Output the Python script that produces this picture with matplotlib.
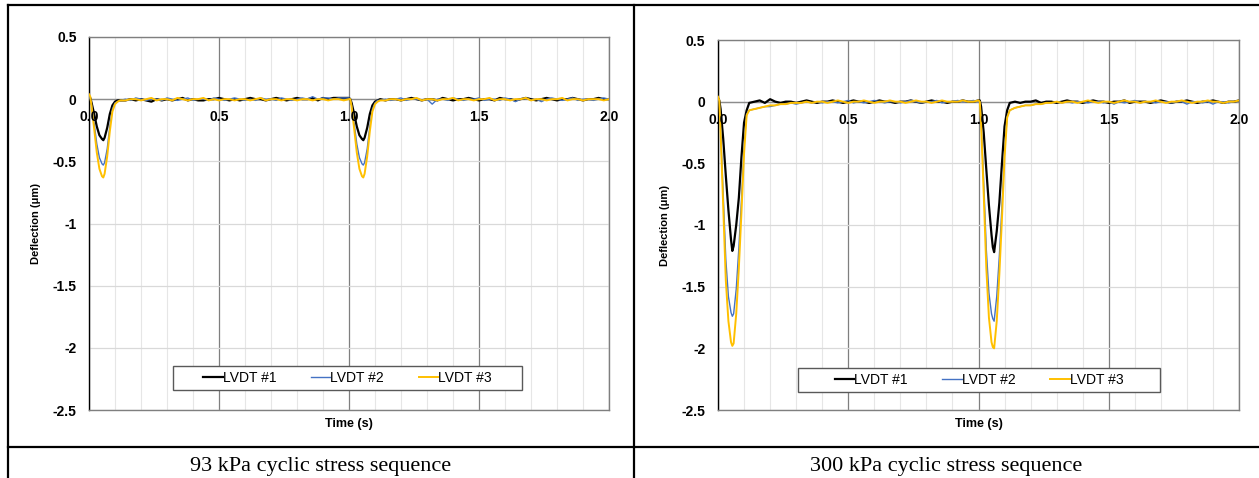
import matplotlib.pyplot as plt
from matplotlib.patches import Rectangle
from matplotlib.lines import Line2D

plt.rcParams['font.family'] = ['Liberation Sans', 'DejaVu Sans']

# time base (s), shared by all LVDT traces
time_s = [0.000, 0.005, 0.010, 0.020, 0.030, 0.040, 0.050, 0.055, 0.060, 0.070, 0.080, 0.090, 0.100, 0.110, 0.120,
          0.14, 0.16, 0.18, 0.20, 0.22, 0.24, 0.26, 0.28, 0.30, 0.32,
          0.34, 0.36, 0.38, 0.40, 0.42, 0.44, 0.46, 0.48, 0.50, 0.52,
          0.54, 0.56, 0.58, 0.60, 0.62, 0.64, 0.66, 0.68, 0.70, 0.72,
          0.74, 0.76, 0.78, 0.80, 0.82, 0.84, 0.86, 0.88, 0.90, 0.92,
          0.94, 0.96, 0.98,
          1.000, 1.005, 1.010, 1.020, 1.030, 1.040, 1.050, 1.055, 1.060, 1.070, 1.080, 1.090, 1.100, 1.110, 1.120,
          1.14, 1.16, 1.18, 1.20, 1.22, 1.24, 1.26, 1.28, 1.30, 1.32,
          1.34, 1.36, 1.38, 1.40, 1.42, 1.44, 1.46, 1.48, 1.50, 1.52,
          1.54, 1.56, 1.58, 1.60, 1.62, 1.64, 1.66, 1.68, 1.70, 1.72,
          1.74, 1.76, 1.78, 1.80, 1.82, 1.84, 1.86, 1.88, 1.90, 1.92,
          1.94, 1.96, 1.98, 2.00]

# 93 kPa
lvdt1_93 = [0.02, 0.01, -0.03, -0.12, -0.22, -0.29, -0.32, -0.33, -0.31, -0.23, -0.12, -0.05, -0.02, -0.01, -0.01,
            -0.01, 0.00, -0.01, 0.00, -0.01, -0.02, 0.00, -0.01, 0.00, -0.01,
            0.00, 0.01, -0.01, 0.00, -0.01, -0.01, 0.00, 0.00, 0.01, 0.00,
            -0.01, 0.00, -0.01, 0.00, 0.01, 0.00, 0.00, -0.01, 0.00, 0.01,
            0.00, -0.01, 0.00, 0.01, 0.00, 0.00, 0.01, -0.01, 0.01, 0.00,
            0.01, 0.01, 0.01,
            0.01, 0.00, -0.03, -0.12, -0.22, -0.29, -0.32, -0.33, -0.31, -0.23, -0.12, -0.05, -0.02, -0.01, 0.00,
            -0.01, 0.00, 0.00, -0.01, 0.00, 0.01, 0.00, -0.01, 0.00, 0.00,
            -0.01, 0.01, 0.00, -0.01, 0.00, 0.00, 0.01, 0.00, -0.01, 0.00,
            0.00, -0.01, 0.01, 0.00, 0.00, -0.01, 0.00, 0.01, 0.00, -0.01,
            0.00, 0.01, 0.00, -0.01, 0.00, 0.00, 0.01, 0.00, -0.01, 0.00,
            0.00, 0.01, 0.00, 0.00]
lvdt2_93 = [0.02, 0.00, -0.05, -0.20, -0.36, -0.47, -0.52, -0.53, -0.51, -0.40, -0.22, -0.08, -0.03, -0.02, -0.01,
            0.00, -0.01, 0.01, 0.00, -0.01, 0.00, 0.00, -0.01, 0.01, 0.00,
            -0.01, 0.00, 0.01, -0.01, 0.00, 0.00, -0.01, 0.01, 0.00, -0.01,
            0.00, 0.01, 0.00, -0.01, 0.00, -0.01, 0.01, 0.00, 0.00, -0.01,
            0.01, 0.00, -0.01, 0.00, 0.01, 0.00, 0.02, 0.00, 0.01, 0.01,
            0.00, 0.01, 0.01,
            0.01, 0.00, -0.05, -0.20, -0.36, -0.47, -0.52, -0.53, -0.51, -0.40, -0.22, -0.08, -0.03, -0.01, -0.01,
            0.00, -0.01, 0.00, 0.01, -0.01, 0.00, 0.00, -0.01, 0.00, -0.04,
            0.00, 0.00, -0.01, 0.01, 0.00, -0.01, 0.00, 0.00, 0.01, -0.01,
            0.00, 0.00, -0.01, 0.01, 0.00, -0.02, 0.00, 0.01, -0.01, 0.00,
            -0.02, 0.00, 0.01, 0.00, -0.01, 0.00, 0.01, -0.01, 0.00, 0.00,
            -0.01, 0.00, 0.01, 0.00]
lvdt3_93 = [0.04, 0.02, -0.06, -0.24, -0.43, -0.56, -0.62, -0.63, -0.60, -0.46, -0.26, -0.10, -0.04, -0.02, -0.01,
            -0.01, 0.00, 0.00, -0.01, 0.00, 0.01, -0.01, 0.00, 0.00, -0.01,
            0.01, 0.00, -0.01, 0.00, 0.00, 0.01, -0.01, 0.00, -0.01, 0.00,
            0.00, -0.01, 0.00, 0.00, -0.01, 0.00, 0.01, -0.01, 0.00, 0.00,
            -0.01, 0.00, 0.00, -0.01, 0.00, 0.00, -0.01, 0.00, 0.00, -0.01,
            0.00, 0.00, -0.01,
            0.00, 0.00, -0.06, -0.24, -0.43, -0.56, -0.62, -0.63, -0.60, -0.46, -0.26, -0.10, -0.04, -0.02, -0.01,
            -0.01, 0.00, 0.00, -0.01, 0.00, 0.00, 0.01, -0.01, 0.00, 0.00,
            -0.01, 0.00, 0.00, 0.01, -0.01, 0.00, 0.00, -0.01, 0.00, 0.00,
            0.01, -0.01, 0.00, 0.00, -0.01, 0.00, 0.00, 0.01, -0.01, 0.00,
            0.00, -0.01, 0.00, 0.00, 0.01, -0.01, 0.00, 0.00, -0.01, 0.00,
            0.00, 0.00, -0.01, 0.00]

# 300 kPa
lvdt1_300 = [0.03, 0.01, -0.06, -0.30, -0.60, -0.88, -1.12, -1.21, -1.17, -1.00, -0.78, -0.45, -0.17, -0.07, -0.01,
             0.00, 0.01, -0.01, 0.02, 0.00, -0.01, 0.00, 0.00, -0.01, 0.00,
             0.01, 0.00, -0.01, 0.00, 0.00, 0.01, 0.00, -0.01, 0.00, 0.01,
             0.00, 0.00, -0.01, 0.00, 0.01, 0.00, 0.00, -0.01, 0.00, 0.00,
             0.01, 0.00, -0.01, 0.00, 0.01, 0.00, 0.00, -0.01, 0.00, 0.00,
             0.01, 0.00, 0.00,
             0.01, 0.01, -0.04, -0.25, -0.55, -0.84, -1.08, -1.18, -1.22, -1.05, -0.82, -0.50, -0.20, -0.07, -0.01,
             0.00, -0.01, 0.00, 0.00, 0.01, -0.01, 0.00, 0.00, -0.01, 0.00,
             0.01, 0.00, 0.00, -0.01, 0.00, 0.01, 0.00, 0.00, -0.01, 0.00,
             0.00, 0.01, -0.01, 0.00, 0.00, 0.00, -0.01, 0.00, 0.01, 0.00,
             -0.01, 0.00, 0.00, 0.01, 0.00, -0.01, 0.00, 0.00, 0.01, 0.00,
             -0.01, 0.00, 0.00, 0.01]
lvdt2_300 = [0.03, 0.00, -0.22, -0.75, -1.28, -1.58, -1.71, -1.74, -1.72, -1.52, -1.19, -0.80, -0.36, -0.10, -0.07,
             -0.06, -0.05, -0.04, -0.04, -0.03, -0.02, -0.02, -0.01, -0.02, -0.01,
             0.00, -0.01, 0.00, -0.01, 0.00, 0.00, -0.01, 0.00, 0.01, -0.01,
             0.00, -0.01, 0.00, 0.01, 0.00, -0.01, 0.00, 0.00, -0.01, 0.00,
             0.01, 0.00, -0.01, 0.00, 0.00, 0.01, -0.01, 0.00, 0.00, 0.01,
             0.00, 0.00, 0.01,
             0.00, 0.00, -0.15, -0.65, -1.20, -1.55, -1.72, -1.76, -1.78, -1.58, -1.25, -0.85, -0.40, -0.12, -0.07,
             -0.05, -0.04, -0.03, -0.03, -0.02, -0.02, -0.01, -0.01, 0.00, -0.01,
             0.00, -0.01, 0.00, 0.00, -0.01, 0.00, 0.00, -0.01, 0.00, -0.02,
             0.00, -0.01, 0.00, 0.01, -0.01, 0.00, 0.00, -0.01, 0.00, 0.00,
             -0.01, 0.00, 0.00, -0.02, 0.00, 0.00, -0.01, 0.00, -0.02, 0.00,
             0.00, -0.01, 0.00, 0.01]
lvdt3_300 = [0.04, 0.01, -0.25, -0.85, -1.45, -1.78, -1.95, -1.98, -1.96, -1.72, -1.35, -0.90, -0.42, -0.11, -0.07,
             -0.06, -0.05, -0.04, -0.03, -0.03, -0.02, -0.02, -0.01, -0.01, -0.01,
             0.00, -0.01, 0.00, 0.00, -0.01, 0.00, 0.01, 0.00, -0.01, 0.00,
             0.00, 0.01, 0.00, -0.01, 0.00, 0.00, 0.01, 0.00, 0.00, -0.01,
             0.00, 0.01, 0.00, 0.00, -0.01, 0.00, 0.01, 0.00, 0.00, 0.00,
             0.01, 0.00, 0.00,
             0.01, 0.00, -0.18, -0.75, -1.35, -1.75, -1.95, -1.99, -2.00, -1.78, -1.40, -0.95, -0.45, -0.13, -0.07,
             -0.05, -0.04, -0.03, -0.03, -0.02, -0.02, -0.01, -0.01, 0.00, -0.01,
             0.00, 0.00, -0.01, 0.00, 0.01, 0.00, -0.01, 0.00, 0.00, -0.01,
             0.00, 0.01, 0.00, 0.00, -0.01, 0.00, 0.00, 0.01, 0.00, -0.01,
             0.00, 0.00, 0.01, 0.00, -0.01, 0.00, 0.00, 0.01, 0.00, 0.00,
             -0.01, 0.00, 0.00, 0.01]

labels = ['LVDT #1', 'LVDT #2', 'LVDT #3']
colors = ['black', '#4472C4', '#FFC000']
widths = [1.6, 1.0, 1.4]
x_ticks = [0.0, 0.5, 1.0, 1.5, 2.0]
x_minor = [0.1, 0.2, 0.3, 0.4, 0.6, 0.7, 0.8, 0.9, 1.1, 1.2, 1.3, 1.4, 1.6, 1.7, 1.8, 1.9]
y_ticks = [0.5, 0.0, -0.5, -1.0, -1.5, -2.0, -2.5]
y_tick_labels = ['0.5', '0', '-0.5', '-1', '-1.5', '-2', '-2.5']
captions = ['93 kPa cyclic stress sequence', '300 kPa cyclic stress sequence']

W, H = 1259, 478
fig = plt.figure(figsize=(W / 100, H / 100), dpi=100)


def px(l, t, r, b):
    return [l / W, (H - b) / H, (r - l) / W, (b - t) / H]


def panel(rect, series, box):
    ax = fig.add_axes(rect)
    lines = []
    for ii in range(3):
        ln, = ax.plot(time_s, series[ii], color=colors[ii], lw=widths[ii], label=labels[ii], zorder=3 + ii)
        lines.append(ln)
    ax.set_xlim(0, 2)
    ax.set_ylim(-2.5, 0.5)
    ax.set_xticks(x_ticks)
    ax.set_xticks(x_minor, minor=True)
    ax.set_yticks(y_ticks)
    ax.set_yticklabels(y_tick_labels, fontweight='bold', fontsize=10)
    ax.tick_params(axis='both', which='both', length=0)
    ax.tick_params(axis='y', pad=9)
    ax.set_xticklabels([])
    ax.grid(axis='x', which='minor', color='#E6E6E6', lw=0.8)
    ax.grid(axis='x', which='major', color='#7F7F7F', lw=0.9)
    ax.grid(axis='y', which='major', color='#D9D9D9', lw=0.9)
    ax.axhline(0, color='#8C8C8C', lw=1.0, zorder=2)
    for s in ['top', 'bottom', 'right']:
        ax.spines[s].set_color('#7F7F7F')
        ax.spines[s].set_linewidth(1.0)
    ax.spines['left'].set_color('black')
    ax.spines['left'].set_linewidth(1.0)
    for xv in x_ticks:
        ax.annotate('%.1f' % xv, (xv, 0), xytext=(0, -8), textcoords='offset points',
                    ha='center', va='top', fontsize=10, fontweight='bold', zorder=10)
    ax.set_ylabel('Deflection (\u03bcm)', fontsize=8, fontweight='bold', labelpad=8)
    ax.set_xlabel('Time (s)', fontsize=9, fontweight='bold', labelpad=2)
    # legend box
    l, t, r, b = box
    fig.patches.append(Rectangle((l / W, (H - b) / H), (r - l) / W, (b - t) / H,
                                 transform=fig.transFigure, fill=True, facecolor='white',
                                 edgecolor='#595959', lw=1.0, zorder=20))
    leg = fig.legend(handles=lines, loc='center',
                     bbox_to_anchor=((l + r) / 2 / W, (H - (t + b) / 2) / H),
                     ncol=3, frameon=False, fontsize=10, handlelength=1.4, handletextpad=0.0,
                     columnspacing=2.5)
    leg.set_zorder(21)
    return ax


panel(px(89, 37, 609, 410), [lvdt1_93, lvdt2_93, lvdt3_93], (173, 366, 522, 390))
panel(px(718, 40, 1239, 410), [lvdt1_300, lvdt2_300, lvdt3_300], (798, 368, 1160, 392))

# table borders
for (x0, y0, x1, y1) in [(8, 5, W, 5), (8, 5, 8, H), (634, 5, 634, H), (8, 447, W, 447)]:
    fig.lines.append(Line2D([x0 / W, x1 / W], [(H - y0) / H, (H - y1) / H],
                            transform=fig.transFigure, color='black', lw=1.6))

fig.text(321 / W, (H - 466) / H, captions[0], ha='center', va='center',
         fontsize=16, family='Liberation Serif')
fig.text(946 / W, (H - 466) / H, captions[1], ha='center', va='center',
         fontsize=16, family='Liberation Serif')

fig.savefig('out.png', dpi=100)
